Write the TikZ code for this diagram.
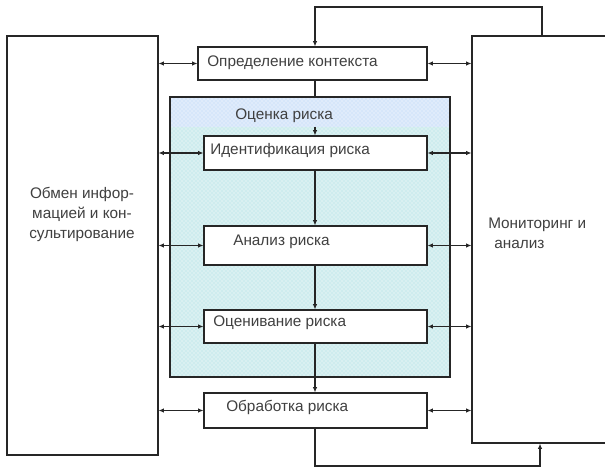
\documentclass[tikz,border=0pt]{standalone}
\usepackage{fontspec}
\setmainfont{Liberation Sans}
\usetikzlibrary{arrows.meta,fit,patterns,calc}

\definecolor{assessfill}{RGB}{206,236,238}
\definecolor{stripfill}{RGB}{214,230,250}
\definecolor{inkgray}{RGB}{64,64,64}

\tikzset{
  box/.style={draw=black!85, line width=0.9pt, fill=white, inner sep=0pt},
  txt/.style={text=inkgray, font=\fontsize{11.5}{15}\selectfont, inner sep=0pt, anchor=west},
  link/.style={draw=black!85, line width=0.8pt, {Latex[length=4pt,width=3.5pt]}-{Latex[length=4pt,width=3.5pt]}},
  flow/.style={draw=black!85, line width=0.8pt, -{Latex[length=4pt,width=3.5pt]}},
  backlink/.style={draw=black!85, line width=1.4pt, -{Latex[length=4pt,width=3.5pt]}},
}

\begin{document}
\begin{tikzpicture}[x=0.75pt,y=-0.75pt]
\useasboundingbox (0,0) rectangle (605,467);

%ОБМЕН ИНФОРМАЦИЕЙ
\node[box, fit={(7,36) (158,455)}] (obmen) {};
\node[txt, anchor=center, align=center] (obmentxt) at (82,214) {Обмен инфор-\\мацией и кон-\\сультирование};

%МОНИТОРИНГ
\node[box, fit={(472,36) (608,443)}] (monit) {};
\node[txt, align=left] (monittxt) at (488,233) {Мониторинг и\\\hspace{0.4em}анализ};

%ОЦЕНКА РИСКА
\node[fit={(170,97) (450,377)}, inner sep=0pt, preaction={fill=assessfill}, pattern=crosshatch dots, pattern color=white] (assess) {};
\fill[preaction={fill=stripfill}, pattern=crosshatch dots, pattern color=white] (assess.north west) rectangle ($(assess.north east)+(0,30)$);
\draw[black!85, line width=1.8pt] (assess.north west) rectangle (assess.south east);
\node[txt] (assesstxt) at (235,116) {Оценка риска};

%ЭТАПЫ
\node[box, fit={(198,47) (427,80)}] (ctx) {};
\node[txt] (ctxtxt) at (207,63) {Определение контекста};
\node[box, fit={(204,136) (427,170)}] (ident) {};
\node[txt] (identtxt) at (210,151) {Идентификация риска};
\node[box, fit={(204,226) (427,265)}] (anal) {};
\node[txt] (analtxt) at (233,242) {Анализ риска};
\node[box, fit={(204,310) (427,343)}] (eval) {};
\node[txt] (evaltxt) at (213,323) {Оценивание риска};
\node[box, fit={(204,393) (427,428)}] (treat) {};
\node[txt] (treattxt) at (226,407) {Обработка риска};

%СВЯЗИ
\coordinate (axis) at (315,0);
\coordinate (up) at (542,7);
\coordinate (down) at (540,466);

\foreach \s in {ctx,ident,anal,eval,treat}{
  \draw[link] (obmen.east |- \s.west) -- (\s.west);
  \draw[link] (\s.east) -- (\s.east -| monit.west);
}

\draw[black!85, line width=0.8pt] (ctx.south -| axis) -- (assess.north -| axis);
\draw[flow] ($(assess.north -| axis)+(0,30)$) -- (ident.north -| axis);
\draw[flow] (ident.south -| axis) -- (anal.north -| axis);
\draw[flow] (anal.south -| axis) -- (eval.north -| axis);
\draw[flow] (eval.south -| axis) -- (treat.north -| axis);

%ОБРАТНЫЕ СВЯЗИ
\draw[backlink] (monit.north -| up) -- (up) -- (up -| axis) -- (ctx.north -| axis);
\draw[backlink] (treat.south -| axis) -- (down -| axis) -- (down) -- (monit.south -| down);
\end{tikzpicture}
\end{document}
